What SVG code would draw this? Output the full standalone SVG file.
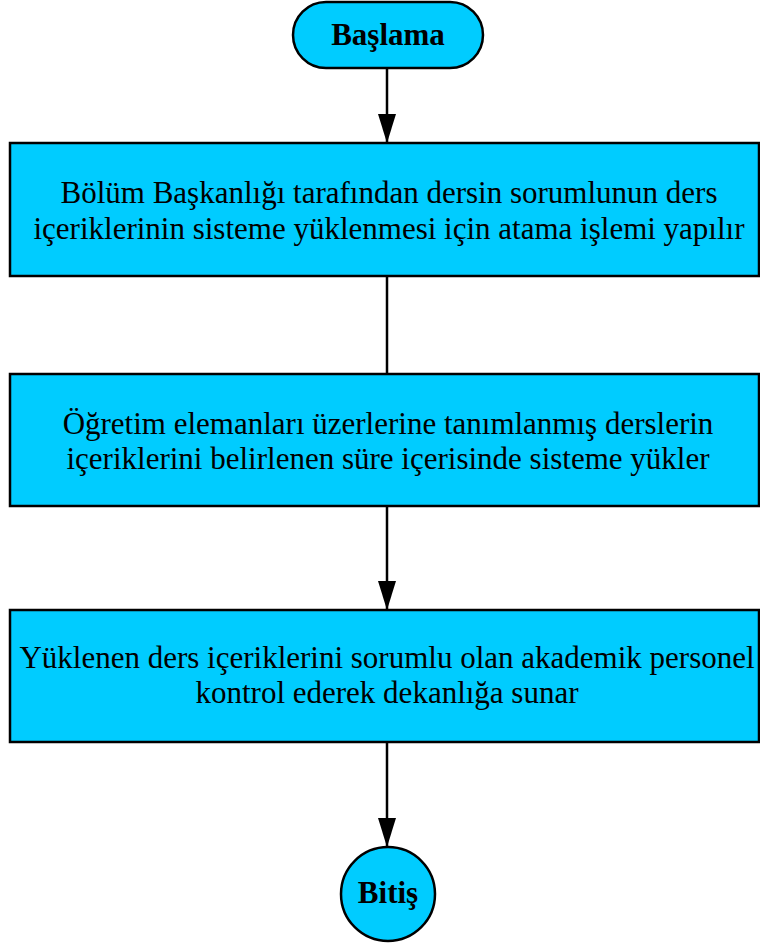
<svg xmlns="http://www.w3.org/2000/svg" width="760" height="947" viewBox="0 0 760 947">
<defs>
<style>
.box{fill:#00CCFF;stroke:#000;stroke-width:2.5}
.t{font-family:"Liberation Serif","Times New Roman",serif;font-size:31px;fill:#000;text-anchor:middle}
.b{font-family:"Liberation Serif","Times New Roman",serif;font-size:31px;font-weight:bold;fill:#000;text-anchor:middle}
.c{stroke:#000;stroke-width:2.5;fill:none}
</style>
<marker id="arr" markerWidth="29" markerHeight="18" refX="29" refY="9" orient="auto" markerUnits="userSpaceOnUse" viewBox="0 0 29 18">
<path d="M0,0 L29,9 L0,18 Z" fill="#000"/>
</marker>
</defs>
<g id="connectors">
<line class="c" x1="387" y1="68" x2="387" y2="143" marker-end="url(#arr)"/>
<line class="c" x1="387" y1="276" x2="387" y2="374"/>
<line class="c" x1="387" y1="506" x2="387" y2="610" marker-end="url(#arr)"/>
<line class="c" x1="387" y1="742" x2="387" y2="847" marker-end="url(#arr)"/>
</g>
<g id="start">
<rect class="box" x="293" y="2" width="190" height="66" rx="33" ry="33"/>
<text class="b" x="388" y="45">Başlama</text>
</g>
<g id="step1">
<rect class="box" x="10" y="143" width="749" height="133"/>
<text class="t" x="389" y="203">Bölüm Başkanlığı tarafından dersin sorumlunun ders</text>
<text class="t" x="389" y="239">içeriklerinin sisteme yüklenmesi için atama işlemi yapılır</text>
</g>
<g id="step2">
<rect class="box" x="10" y="374" width="749" height="132"/>
<text class="t" x="388" y="434">Öğretim elemanları üzerlerine tanımlanmış derslerin</text>
<text class="t" x="388" y="469">içeriklerini belirlenen süre içerisinde sisteme yükler</text>
</g>
<g id="step3">
<rect class="box" x="10" y="610" width="749" height="132"/>
<text class="t" x="387" y="668">Yüklenen ders içeriklerini sorumlu olan akademik personel</text>
<text class="t" x="387" y="703">kontrol ederek dekanlığa sunar</text>
</g>
<g id="end">
<circle class="box" cx="388" cy="894" r="47"/>
<text class="b" x="388" y="903">Bitiş</text>
</g>
</svg>
